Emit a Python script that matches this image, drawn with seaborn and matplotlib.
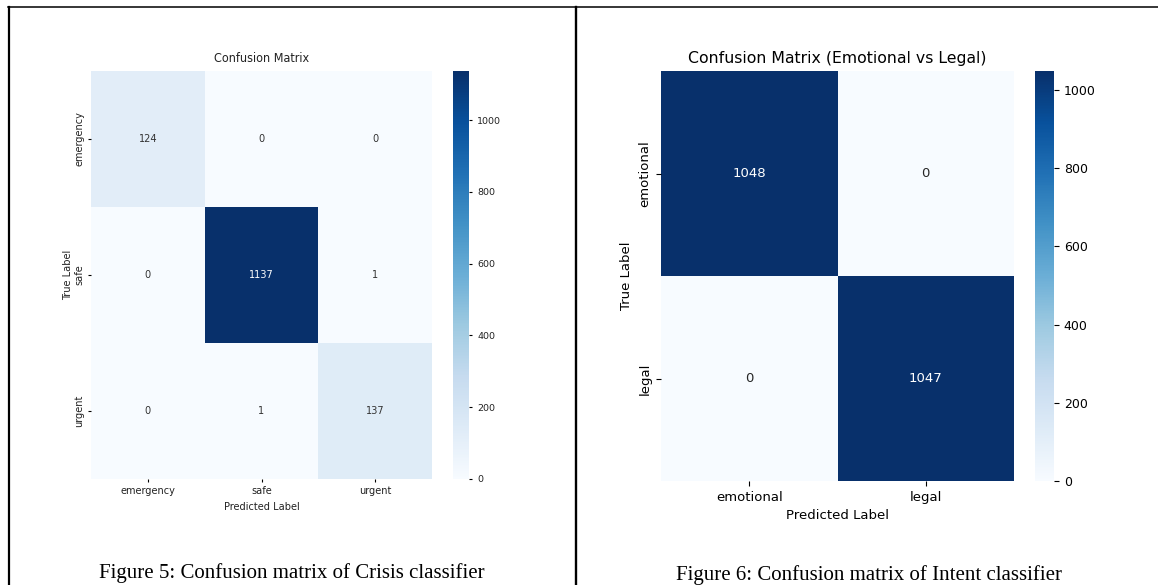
import numpy as np
import pandas as pd
import matplotlib
matplotlib.use("Agg")
import matplotlib.pyplot as plt
import seaborn as sns
from matplotlib.lines import Line2D

# crisis classifier
crisis_labels = ['emergency', 'safe', 'urgent']
crisis_cm = [[124, 0, 0],
             [0, 1137, 1],
             [0, 1, 137]]

# intent classifier
intent_labels = ['emotional', 'legal']
intent_cm = [[1048, 0],
             [0, 1047]]

W, H = 1158, 585
fig = plt.figure(figsize=(W / 100, H / 100), dpi=100)


def box(x0, y0, x1, y1):
    # pixel box (top-left origin) -> figure fraction rect
    return [x0 / W, 1 - y1 / H, (x1 - x0) / W, (y1 - y0) / H]


# left figure
ax1 = fig.add_axes(box(91, 71, 432, 479))
cax1 = fig.add_axes(box(453, 71, 469, 479))
df1 = pd.DataFrame(crisis_cm, index=crisis_labels, columns=crisis_labels)
sns.heatmap(df1, annot=True, fmt='d', cmap='Blues', ax=ax1, cbar_ax=cax1,
            annot_kws={'fontsize': 7.8, 'fontstretch': 'condensed', 'color': '#333333'})
ax1.set_title('Confusion Matrix', fontsize=9, pad=6.5, fontstretch='condensed', color='#222222')
ax1.set_xlabel('Predicted Label', fontsize=7.8, fontstretch='condensed', color='#222222')
ax1.set_ylabel('True Label', fontsize=7.8, fontstretch='condensed', color='#222222', labelpad=1)
ax1.tick_params(labelsize=7.8, labelcolor='#222222', length=2.5, pad=2.5)
for t in ax1.get_xticklabels() + ax1.get_yticklabels():
    t.set_fontstretch('condensed')
cax1.tick_params(labelsize=6.8, labelcolor='#222222', length=2.5)
# the dark cell keeps white text
for t in ax1.texts:
    if t.get_text() == '1137':
        t.set_color('white')

# right figure
ax2 = fig.add_axes(box(661, 71, 1014, 481))
cax2 = fig.add_axes(box(1035, 71, 1054, 481))
df2 = pd.DataFrame(intent_cm, index=intent_labels, columns=intent_labels)
sns.heatmap(df2, annot=True, fmt='d', cmap='Blues', ax=ax2, cbar_ax=cax2,
            annot_kws={'fontsize': 9.5})
ax2.set_title('Confusion Matrix (Emotional vs Legal)', fontsize=11.3, pad=6)
ax2.set_xlabel('Predicted Label', fontsize=9.5)
ax2.set_ylabel('True Label', fontsize=9.5)
ax2.tick_params(labelsize=9.5)
cax2.tick_params(labelsize=9)

# captions
fig.text(292 / W, 1 - 573 / H, 'Figure 5: Confusion matrix of Crisis classifier',
         ha='center', va='center', fontsize=15, family='Liberation Serif')
fig.text(869 / W, 1 - 575 / H, 'Figure 6: Confusion matrix of Intent classifier',
         ha='center', va='center', fontsize=15, family='Liberation Serif')

# table borders
fig.add_artist(Line2D([8 / W, 1], [1 - 7 / H] * 2, color='black', lw=1.1))
fig.add_artist(Line2D([9 / W] * 2, [1 - 7 / H, 0], color='black', lw=1.6))
fig.add_artist(Line2D([576 / W] * 2, [1 - 7 / H, 0], color='black', lw=1.7))

fig.savefig('out.png', dpi=100)
